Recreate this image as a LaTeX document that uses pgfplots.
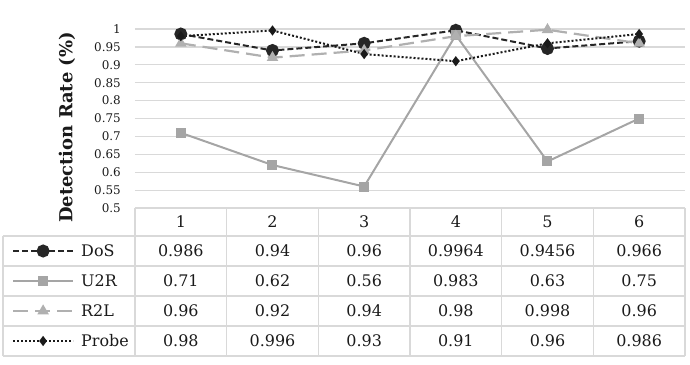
\documentclass[border=0pt]{standalone}
\usepackage{fontspec}
\setmainfont{DejaVu Serif}
\usepackage{pgfplots}
\pgfplotsset{compat=1.18}
\definecolor{gridc}{HTML}{D9D9D9}
\definecolor{dark}{HTML}{262626}
\definecolor{lgray}{HTML}{A5A5A5}
\definecolor{lgray2}{HTML}{B0B0B0}
\definecolor{txt}{HTML}{1A1A1A}
\begin{document}
\begin{tikzpicture}
\useasboundingbox (-135bp,-157bp) rectangle (555bp,208bp);
\begin{axis}[
  name=ax, at={(0,0)}, anchor=south west,
  scale only axis, width=550bp, height=179bp,
  xmin=0.5, xmax=6.5, ymin=0.5, ymax=1,
  xtick=\empty,
  ytick={0.5,0.55,0.6,0.65,0.7,0.75,0.8,0.85,0.9,0.95,1},
  yticklabels={0.5,0.55,0.6,0.65,0.7,0.75,0.8,0.85,0.9,0.95,1},
  axis line style={draw=none}, major tick style={draw=none},
  ymajorgrids, grid style={gridc, line width=1.2bp},
  clip=false,
  yticklabel style={font=\fontsize{12}{13}\selectfont, text=txt, inner sep=0pt, xshift=-14bp},
  ylabel={Detection Rate (\%)},
  ylabel style={font=\bfseries\fontsize{18}{19}\selectfont, text=txt, at={(axis description cs:-0.1236,0.45)}, anchor=center},
  legend cell align=left,
  legend image code/.code={\draw[mark repeat=2,mark phase=2,#1] plot coordinates {(0bp,0bp) (30bp,0bp) (60bp,0bp)};},
  legend style={at={(axis description cs:-0.2236,-0.1564)}, anchor=north west, draw=none, fill=none,
    inner sep=0pt, outer sep=0pt, row sep=0pt,
    nodes={inner sep=0pt, minimum height=30bp, font=\fontsize{16}{17}\selectfont, text=txt},
    /tikz/every odd column/.append style={column sep=7bp}},
]
\addplot[dark, line width=2bp, dash pattern=on 6bp off 3bp, mark=*, mark size=5.5bp, mark options={solid, fill=dark}]
  coordinates {(1,0.986) (2,0.94) (3,0.96) (4,0.9964) (5,0.9456) (6,0.966)};
\addlegendentry{DoS}
\addplot[lgray, line width=2bp, mark=square*, mark size=4bp, mark options={solid, fill=lgray}]
  coordinates {(1,0.71) (2,0.62) (3,0.56) (4,0.983) (5,0.63) (6,0.75)};
\addlegendentry{U2R}
\addplot[lgray2, line width=2.2bp, dash pattern=on 15bp off 7bp, mark=triangle*, mark size=4.5bp, mark options={solid, fill=lgray2}]
  coordinates {(1,0.96) (2,0.92) (3,0.94) (4,0.98) (5,0.998) (6,0.96)};
\addlegendentry{R2L}
\addplot[txt, line width=2bp, dash pattern=on 2bp off 2bp, mark=diamond*, mark size=3.5bp, mark options={solid, fill=txt}]
  coordinates {(1,0.98) (2,0.996) (3,0.93) (4,0.91) (5,0.96) (6,0.986)};
\addlegendentry{Probe}
\end{axis}
\begin{scope}[x=1bp, y=1bp]
  \begin{scope}[gridc, line width=1.2bp]
    \foreach \yy in {-28,-58,-88,-118,-148} \draw (-132,\yy) -- (550,\yy);
    \draw (-132,-28) -- (-132,-148);
    \foreach \i in {0,...,6} \draw ({\i*550/6},0) -- ({\i*550/6},-148);
  \end{scope}
  \begin{scope}[every node/.style={font=\fontsize{16}{17}\selectfont, text=txt, inner sep=0pt}]
    \foreach \v [count=\i] in {1,2,3,4,5,6} \node at ({(\i-0.5)*550/6},-14) {\v};
    \foreach \v [count=\i] in {0.986,0.94,0.96,0.9964,0.9456,0.966} \node at ({(\i-0.5)*550/6},-43) {\v};
    \foreach \v [count=\i] in {0.71,0.62,0.56,0.983,0.63,0.75} \node at ({(\i-0.5)*550/6},-73) {\v};
    \foreach \v [count=\i] in {0.96,0.92,0.94,0.98,0.998,0.96} \node at ({(\i-0.5)*550/6},-103) {\v};
    \foreach \v [count=\i] in {0.98,0.996,0.93,0.91,0.96,0.986} \node at ({(\i-0.5)*550/6},-133) {\v};
  \end{scope}
\end{scope}
\end{tikzpicture}
\end{document}
